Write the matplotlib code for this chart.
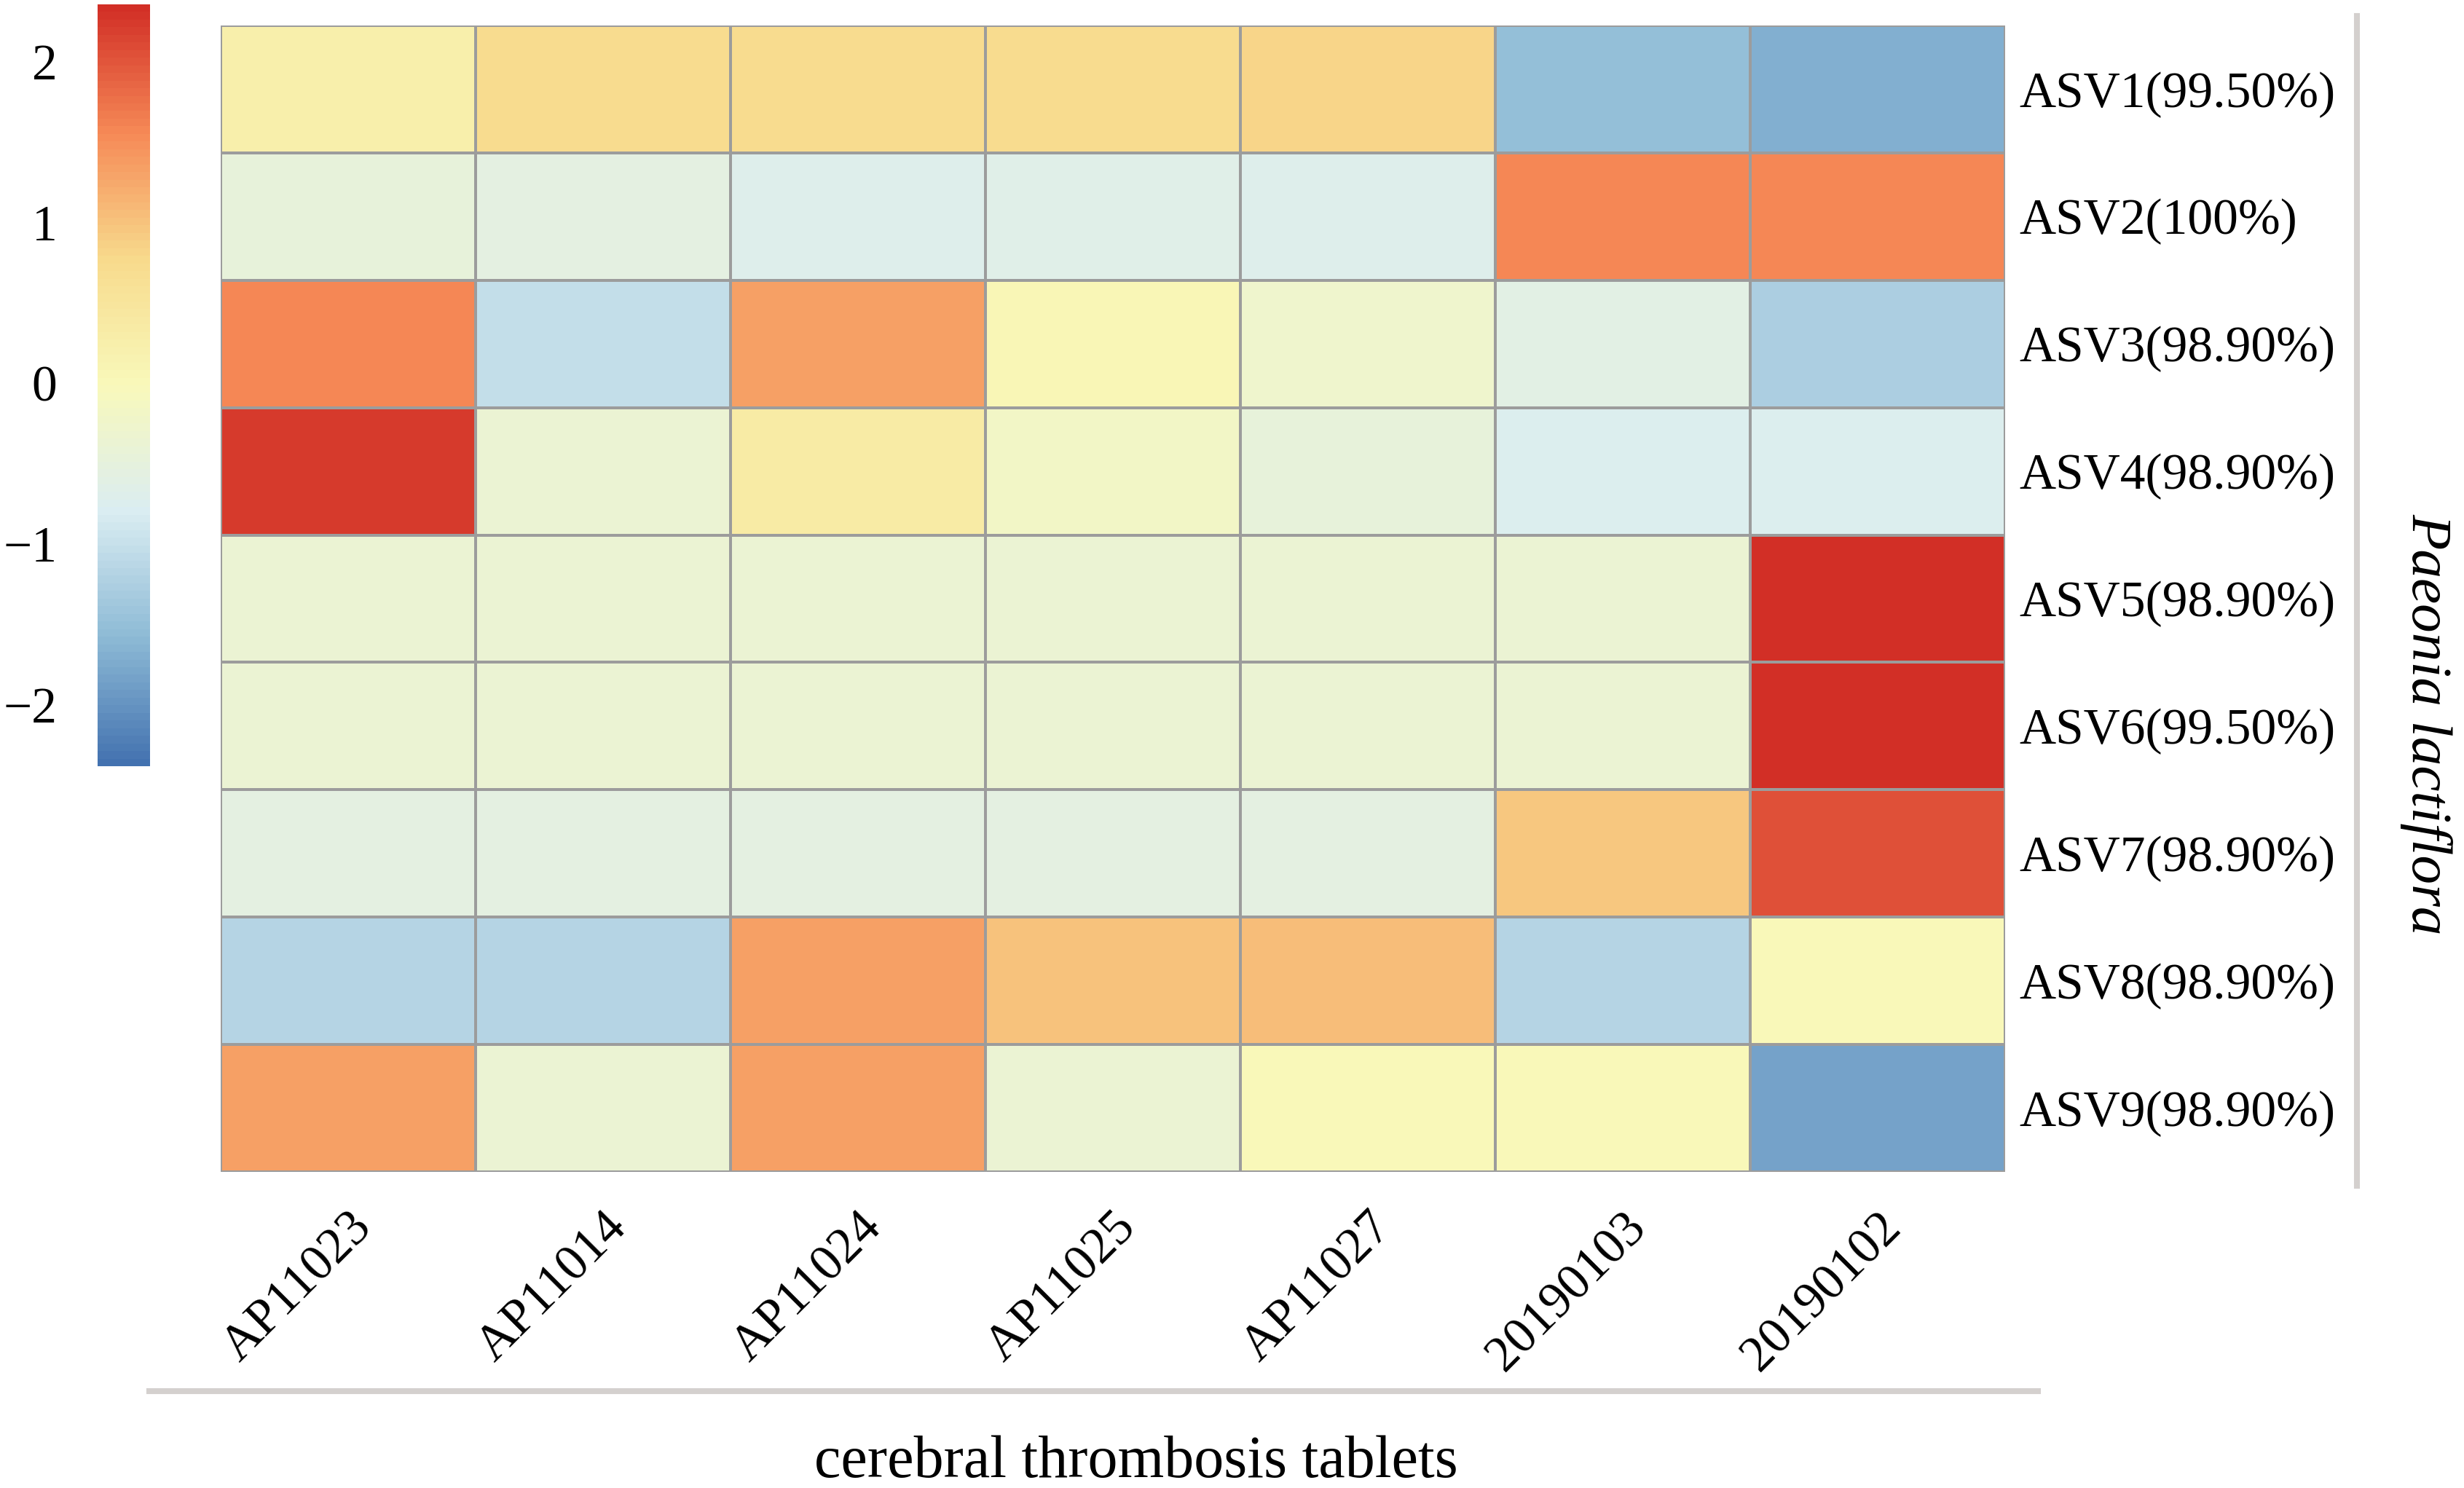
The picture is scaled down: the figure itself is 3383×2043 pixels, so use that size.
import numpy as np
import matplotlib
matplotlib.use("Agg")
import matplotlib.pyplot as plt
from matplotlib.colors import LinearSegmentedColormap, to_rgb
from matplotlib.lines import Line2D

plt.rcParams['font.family'] = ['Liberation Serif', 'DejaVu Serif']

# samples (columns) and ASVs (rows)
samples = ["AP11023", "AP11014", "AP11024", "AP11025", "AP11027", "20190103", "20190102"]
asv_labels = ["ASV1(99.50%)", "ASV2(100%)", "ASV3(98.90%)", "ASV4(98.90%)", "ASV5(98.90%)",
              "ASV6(99.50%)", "ASV7(98.90%)", "ASV8(98.90%)", "ASV9(98.90%)"]

# z-scores
asv1 = [0.26, 0.70, 0.70, 0.70, 0.82, -1.51, -1.68]
asv2 = [-0.45, -0.56, -0.70, -0.64, -0.72, 1.56, 1.56]
asv3 = [1.58, -1.02, 1.33, 0.04, -0.25, -0.60, -1.29]
asv4 = [2.25, -0.37, 0.34, -0.17, -0.48, -0.74, -0.74]
asv5 = [-0.37, -0.37, -0.37, -0.37, -0.37, -0.37, 2.35]
asv6 = [-0.37, -0.37, -0.37, -0.37, -0.37, -0.37, 2.35]
asv7 = [-0.56, -0.56, -0.56, -0.56, -0.56, 0.95, 2.04]
asv8 = [-1.16, -1.16, 1.32, 0.99, 1.03, -1.16, 0.03]
asv9 = [1.34, -0.37, 1.34, -0.37, 0.00, 0.00, -1.83]

vals = np.array([asv1, asv2, asv3, asv4, asv5, asv6, asv7, asv8, asv9])
vmin, vmax = -2.38, 2.355

# pheatmap default palette, toned down a little like the printed figure
pal = ["#4575B4", "#91BFDB", "#E0F3F8", "#FFFFBF", "#FEE090", "#FC8D59", "#D73027"]
pal = [tuple(c * 0.975 for c in to_rgb(p)) for p in pal]
cmap = LinearSegmentedColormap.from_list("rdylbu7", pal, N=100)

W, H = 3383, 2043
fig = plt.figure(figsize=(W / 100, H / 100), dpi=100)

# heatmap
ax = fig.add_axes([303 / W, 1 - 1609 / H, 2450 / W, 1574 / H])
mesh = ax.pcolormesh(vals, cmap=cmap, vmin=vmin, vmax=vmax,
                     edgecolors="#9C9C9C", linewidth=2.8)
ax.set_xlim(0, len(samples))
ax.set_ylim(len(asv_labels), 0)
for s in ax.spines.values():
    s.set_visible(False)

ax.set_xticks(np.arange(len(samples)) + 0.5)
ax.set_xticklabels(samples, rotation=45, ha="right", va="top",
                   rotation_mode="anchor", fontsize=50)
ax.tick_params(axis="x", length=0, pad=32)

ax.yaxis.tick_right()
ax.set_yticks(np.arange(len(asv_labels)) + 0.5)
ax.set_yticklabels(asv_labels, fontsize=50)
ax.tick_params(axis="y", length=0, pad=14)

# colour key
cax = fig.add_axes([134 / W, 1 - 1052 / H, 72 / W, 1046 / H])
cb = fig.colorbar(mesh, cax=cax, ticks=[-2, -1, 0, 1, 2])
cb.outline.set_visible(False)
cax.yaxis.set_ticks_position("left")
cax.tick_params(length=0, pad=40, labelsize=50)

# group lines and titles
fig.add_artist(Line2D([205 / W, 2798 / W], [1 - 1910 / H, 1 - 1910 / H],
                      color="#D4D0CE", lw=5.8, transform=fig.transFigure))
fig.add_artist(Line2D([3236 / W, 3236 / W], [1 - 22 / H, 1 - 1628 / H],
                      color="#D4D0CE", lw=5.8, transform=fig.transFigure))

fig.text(1560 / W, 1 - 2008 / H, "cerebral thrombosis tablets",
         ha="center", va="center", fontsize=59)
fig.text(3331 / W, 1 - 994 / H, "Paeonia lactiflora", rotation=270,
         ha="center", va="center", fontsize=57, style="italic")

fig.savefig("out.png", dpi=100)
